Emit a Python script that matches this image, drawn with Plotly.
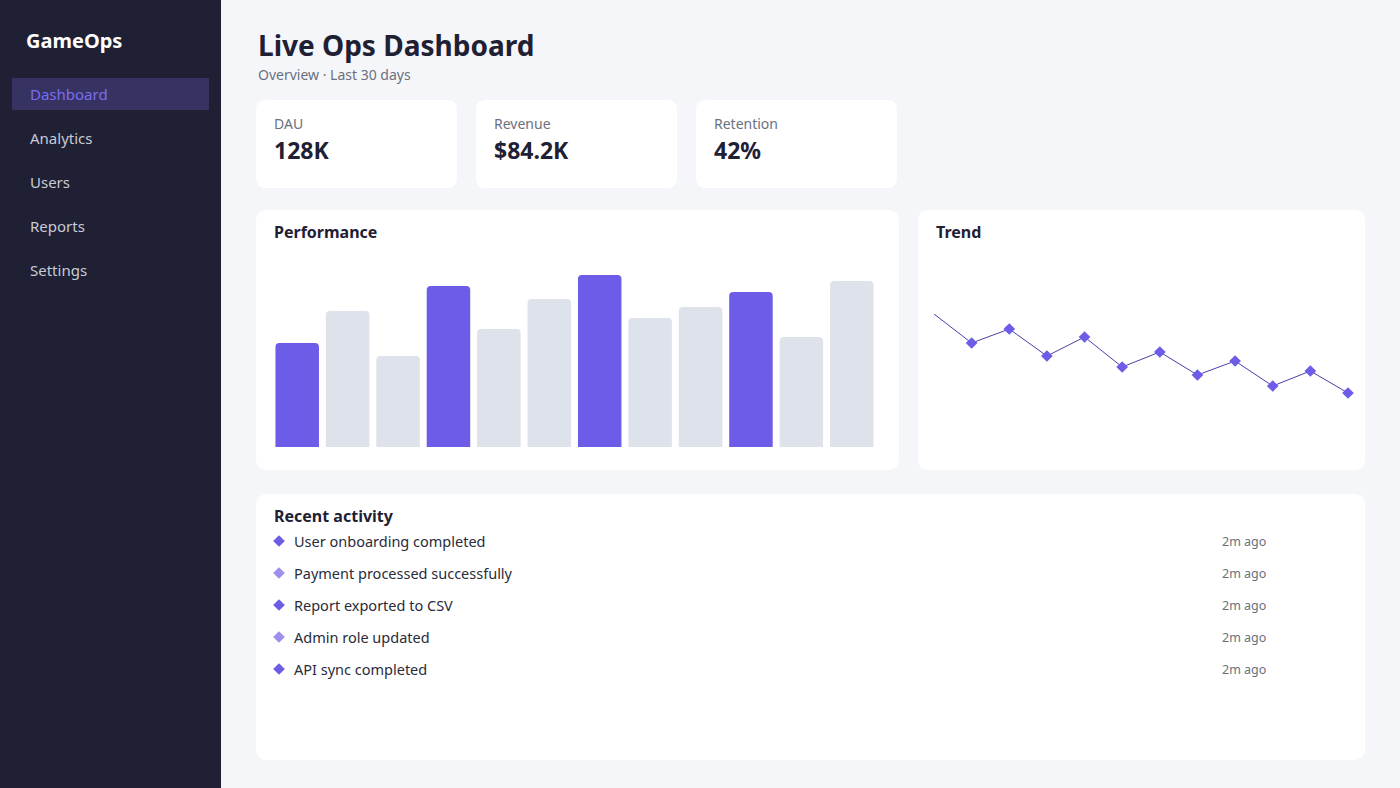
import plotly.graph_objects as go

W, H = 1400, 788
bar_labels = [f"B{i+1}" for i in range(12)]
bar_values = [104, 136, 91, 161, 118, 148, 172, 129, 140, 155, 110, 166]
bar_highlight = [True, False, False, True, False, False, True, False, False, True, False, False]
trend_x = list(range(1, 13))
trend_values = [186, 157, 171, 144, 163, 133, 148, 125, 139, 114, 129, 107]
kpi_labels = ["DAU", "Revenue", "Retention"]
kpi_values = ["128K", "$84.2K", "42%"]
nav_items = ["Dashboard", "Analytics", "Users", "Reports", "Settings"]
activity = ["User onboarding completed", "Payment processed successfully",
            "Report exported to CSV", "Admin role updated", "API sync completed"]
activity_time = ["2m ago"] * 5

FONT = "Noto Sans"
PURPLE = "#6c5ce7"

def px(x): return x / W
def py(y): return 1 - y / H

def rrect(x0, y0, x1, y1, r, color):
    rx, ry = r / W, r / H
    X0, X1, Y0, Y1 = px(x0), px(x1), py(y0), py(y1)
    p = (f"M{X0+rx},{Y0} L{X1-rx},{Y0} Q{X1},{Y0} {X1},{Y0-ry} L{X1},{Y1+ry} "
         f"Q{X1},{Y1} {X1-rx},{Y1} L{X0+rx},{Y1} Q{X0},{Y1} {X0},{Y1+ry} "
         f"L{X0},{Y0-ry} Q{X0},{Y0} {X0+rx},{Y0} Z")
    return dict(type="path", path=p, xref="paper", yref="paper",
                fillcolor=color, line=dict(width=0), layer="below")

shapes = [
    dict(type="rect", xref="paper", yref="paper", x0=0, x1=px(221), y0=0, y1=1,
         fillcolor="#1f2033", line=dict(width=0), layer="below"),
    dict(type="rect", xref="paper", yref="paper", x0=px(12), x1=px(209), y0=py(110), y1=py(78),
         fillcolor="#363363", line=dict(width=0), layer="below"),
]
for x0 in [256, 476, 696]:
    shapes.append(rrect(x0, 100, x0 + 201, 188, 10, "white"))
shapes.append(rrect(256, 210, 899, 470, 12, "white"))
shapes.append(rrect(918, 210, 1365, 470, 12, "white"))
shapes.append(rrect(256, 494, 1365, 760, 12, "white"))

ann = []
def txt(x, y, s, size, color, bold=False, anchor="left"):
    ann.append(dict(xref="paper", yref="paper", x=px(x), y=py(y), text=f"<b>{s}</b>" if bold else s,
                    showarrow=False, xanchor=anchor, yanchor="middle",
                    font=dict(family=FONT, size=size, color=color)))

txt(24, 41, "GameOps", 20, "white", True)
for i, n in enumerate(nav_items):
    txt(28, 94 + 44 * i, n, 15, "#7c6cf0" if i == 0 else "#c8cad6")
txt(256, 45, "Live Ops Dashboard", 28, "#1f2033", True)
txt(256, 74, "Overview · Last 30 days", 14, "#6b7080")
for i, (l, v) in enumerate(zip(kpi_labels, kpi_values)):
    x = 272 + 220 * i
    txt(x, 123, l, 14, "#6b7080")
    txt(x, 150, v, 23, "#1f2033", True)
txt(272, 232, "Performance", 16, "#1f2033", True)
txt(934, 232, "Trend", 16, "#1f2033", True)
txt(272, 516, "Recent activity", 16, "#1f2033", True)
for i, (a, t) in enumerate(zip(activity, activity_time)):
    y = 541 + 32 * i
    txt(292, y, a, 14.5, "#2a2c3a")
    txt(1220, y, t, 12.5, "#6b7080")

fig = go.Figure()
fig.add_trace(go.Bar(x=bar_labels, y=bar_values,
                     marker=dict(color=[PURPLE if h else "#dee2ea" for h in bar_highlight], line=dict(width=0)),
                     xaxis="x", yaxis="y", hoverinfo="skip"))
fig.add_trace(go.Scatter(x=trend_x, y=trend_values, mode="lines+markers",
                         line=dict(color="#4b3fa8", width=1),
                         marker=dict(symbol="diamond", size=[0] + [9] * 11, color=PURPLE,
                                     opacity=1, line=dict(width=0)),
                         xaxis="x2", yaxis="y2", cliponaxis=False, hoverinfo="skip"))
fig.add_trace(go.Scatter(x=[px(279)] * 5, y=[py(541 + 32 * i) for i in range(5)], mode="markers",
                         marker=dict(symbol="diamond", size=9, opacity=1, line=dict(width=0),
                                     color=[PURPLE if i % 2 == 0 else "#9d8ff0" for i in range(5)]),
                         xaxis="x3", yaxis="y3", cliponaxis=False, hoverinfo="skip"))

ax = dict(visible=False, fixedrange=True)
fig.update_layout(
    width=W, height=H, margin=dict(l=0, r=0, t=0, b=0),
    paper_bgcolor="#f5f6fa", plot_bgcolor="rgba(0,0,0,0)",
    showlegend=False, shapes=shapes, annotations=ann,
    bargap=0.137, barcornerradius=4,
    xaxis=dict(domain=[px(272), px(877)], **ax),
    yaxis=dict(domain=[py(447), py(275)], range=[0, 172], **ax),
    xaxis2=dict(domain=[px(934), px(1348)], range=[1, 12], **ax),
    yaxis2=dict(domain=[py(393), py(314)], range=[107, 186], **ax),
    xaxis3=dict(domain=[0, 1], range=[0, 1], **ax),
    yaxis3=dict(domain=[0, 1], range=[0, 1], **ax),
)
fig.write_html("out.html", config={"displayModeBar": False})
with open("out.html", encoding="utf-8") as f:
    html = f.read()
html = html.replace("<head>", "<head><style>html,body{margin:0;padding:0;overflow:hidden;}</style>", 1)
with open("out.html", "w", encoding="utf-8") as f:
    f.write(html)
